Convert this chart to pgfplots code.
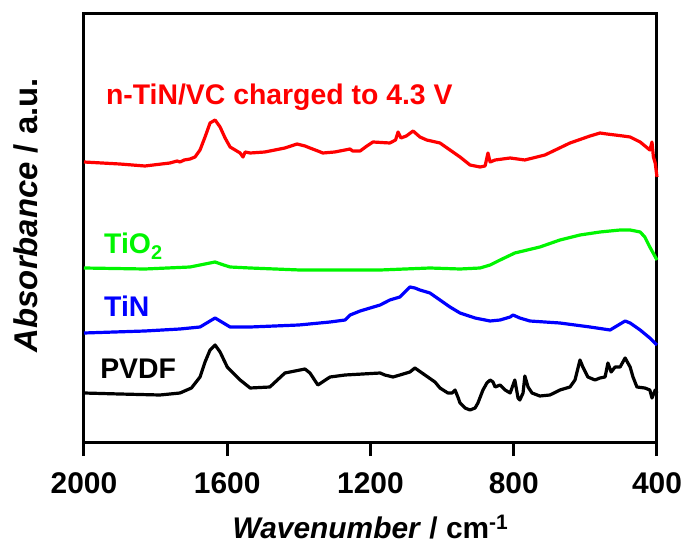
\documentclass[border=0pt]{standalone}
\usepackage{fontspec}
\setmainfont{Liberation Sans}
\usepackage{pgfplots}
\pgfplotsset{compat=1.18}
\definecolor{cRed}{RGB}{255,0,0}
\definecolor{cGreen}{RGB}{0,245,0}
\definecolor{cBlue}{RGB}{0,0,255}

\begin{document}
\begin{tikzpicture}
\begin{axis}[
    name=ax,
    scale only axis, width=573bp, height=428bp,
    x dir=reverse, xmin=400, xmax=2000, ymin=0, ymax=428,
    xtick={400,800,1200,1600,2000}, ytick=\empty,
    xtick pos=left,
    xtick align=outside, major tick length=14bp,
    xtick style={draw=black, line width=3bp},
    axis line style={line width=3bp},
    /pgf/number format/1000 sep={},
    /pgf/number format/assume math mode=true,
    xticklabel style={font=\fontsize{30}{30}\selectfont\bfseries, anchor=base, yshift=-37bp},
    xlabel={\textit{Wavenumber} / cm\textsuperscript{-1}},
    xlabel style={font=\fontsize{30}{30}\selectfont\bfseries, at={(rel axis cs:0.5,0)}, anchor=base, yshift=-96bp},
    ylabel={\textit{Absorbance} / a.u.},
    ylabel style={font=\fontsize{33}{33}\selectfont\bfseries, at={(rel axis cs:-0.0733,0.53)}, anchor=south},
    every axis plot/.append style={line width=3.2bp, line join=round},
    clip=false,
]
% n-TiN/VC charged to 4.3 V
\addplot[cRed] coordinates {
(2000,280) (1900,278) (1830,276) (1760,279) (1740,281) (1732,280) (1720,282) (1704,283) (1690,285)
(1676,292) (1662,305) (1648,319) (1634,322) (1620,315) (1606,304) (1592,295)
(1564,289) (1556,285) (1550,290) (1536,289) (1495,290) (1439,294) (1405,298)
(1383,296) (1369,294) (1347,291) (1333,289) (1300,290) (1271,292) (1257,293)
(1250,291) (1229,291) (1210,296) (1193,300) (1146,299) (1130,302) (1123,310)
(1115,304) (1100,306) (1081,311) (1062,305) (1043,302) (1006,299) (950,285)
(922,277) (894,275) (880,276) (872,289) (866,280) (852,282) (810,284)
(769,282) (713,287) (643,299) (587,306) (559,309) (540,308) (517,307) (495,306) (475,305)
(447,300) (420,292) (414,300) (410,285) (405,279) (400,265)
};
% TiO2
\addplot[cGreen] coordinates {
(2000,174) (1830,173) (1704,175) (1676,177) (1634,180) (1610,177) (1592,175)
(1536,174) (1397,172) (1173,172) (1034,174) (950,173) (894,174) (866,177)
(838,182) (797,189) (727,195) (671,202) (615,207) (559,210) (503,212)
(475,212) (447,210) (434,205) (420,195) (400,182)
};
% TiN
\addplot[cBlue] coordinates {
(2000,109) (1830,111) (1732,113) (1676,115) (1648,121) (1634,124) (1620,121)
(1592,115) (1536,115) (1400,117) (1313,120) (1271,122) (1257,127) (1229,131)
(1173,137) (1146,142) (1118,145) (1090,155) (1076,154) (1062,152) (1034,149)
(1006,142) (978,135) (950,129) (908,124) (866,121) (838,122) (810,125)
(802,127) (783,124) (755,121) (671,119) (587,115) (531,112) (517,115)
(489,121) (475,119) (447,112) (420,104) (400,97)
};
% PVDF
\addplot[black] coordinates {
(2000,49) (1900,48) (1788,47) (1732,49) (1700,54) (1676,65) (1662,80)
(1648,92) (1634,97) (1620,90) (1600,75) (1564,62) (1536,54) (1481,55)
(1439,69) (1425,70) (1383,73) (1369,69) (1347,57) (1313,65) (1271,67)
(1173,69) (1160,67) (1137,65) (1118,67) (1090,70) (1076,74) (1048,67)
(1020,60) (1006,54) (984,49) (972,49) (964,52) (956,45) (950,39) (936,34)
(922,32) (908,34) (900,39) (886,52) (875,59) (866,62) (858,60) (852,55)
(838,57) (824,52) (810,49) (797,62) (788,44) (783,42) (774,49) (769,66)
(760,55) (749,49) (727,46) (699,47) (671,52) (643,55) (629,62) (615,82)
(607,75) (593,65) (573,62) (559,64) (545,65) (537,79) (528,70) (517,75)
(503,75) (489,84) (475,75) (467,65) (456,55) (434,54) (420,52) (414,44)
(405,52) (400,49)
};
\node[anchor=base west, inner sep=0pt, text=cRed, font=\fontsize{28.5}{28.5}\selectfont\bfseries] at (axis cs:1939,337) {n-TiN/VC charged to 4.3 V};
\node[anchor=base west, inner sep=0pt, text=cGreen, font=\fontsize{28.5}{28.5}\selectfont\bfseries] at (axis cs:1944,188) {TiO\textsubscript{2}};
\node[anchor=base west, inner sep=0pt, text=cBlue, font=\fontsize{28.5}{28.5}\selectfont\bfseries] at (axis cs:1944,125) {TiN};
\node[anchor=base west, inner sep=0pt, text=black, font=\fontsize{28.5}{28.5}\selectfont\bfseries] at (axis cs:1955,64) {PVDF};
\end{axis}
\pgfresetboundingbox
\path[use as bounding box] ([shift={(-84bp,-107bp)}]ax.south west) rectangle ([shift={(32bp,14bp)}]ax.north east);
\end{tikzpicture}
\end{document}
